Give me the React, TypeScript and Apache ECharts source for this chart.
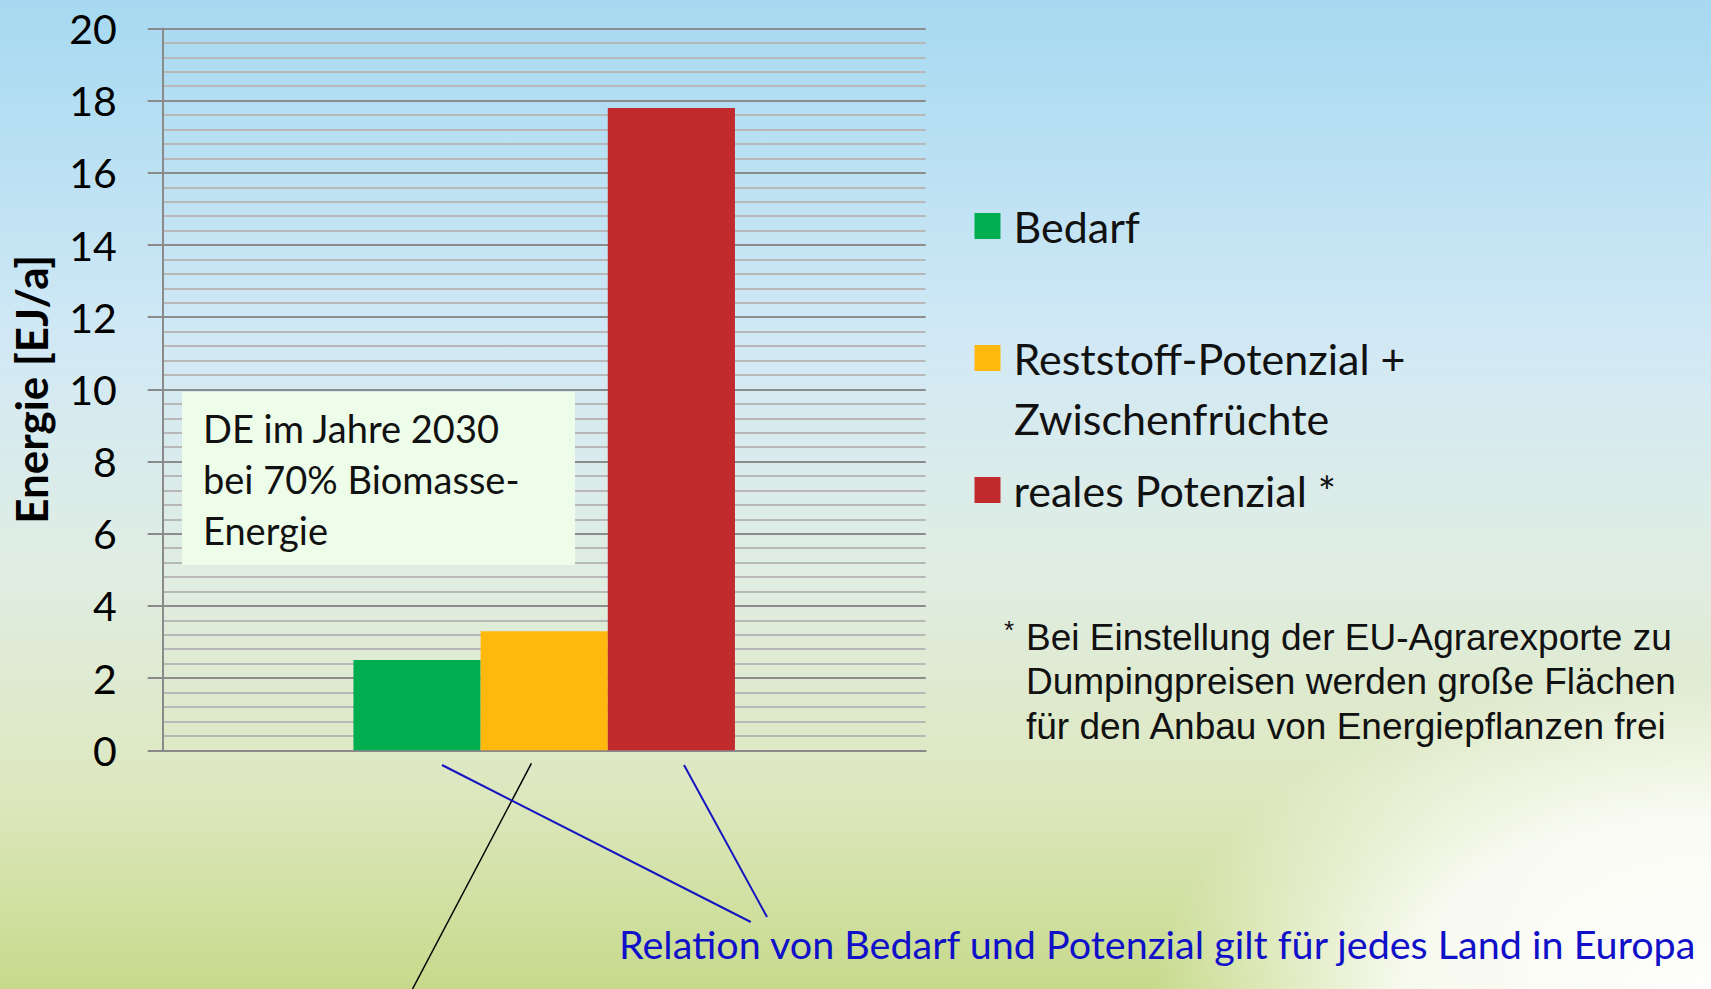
import React, { useEffect, useRef } from "react";
import * as echarts from "echarts";

// ---- data ----
const categories: string[] = [""];
const seriesNames: string[] = ["Bedarf", "Reststoff-Potenzial + Zwischenfrüchte", "reales Potenzial *"];
const bedarfValues: number[] = [2.5];
const reststoffValues: number[] = [3.3];
const realesValues: number[] = [17.8];
const seriesColors: string[] = ["#00ad4f", "#ffb80d", "#c22b2e"];
const yMin = 0;
const yMax = 20;
const yInterval = 2;
const yAxisName = "Energie [EJ/a]";
const boxLines: string[] = ["DE im Jahre 2030", "bei 70% Biomasse-", "Energie"];
const footnoteLines: string[] = [
  "Bei Einstellung der EU-Agrarexporte zu",
  "Dumpingpreisen werden große Flächen",
  "für den Anbau von Energiepflanzen frei",
];
const relationText = "Relation von Bedarf und Potenzial gilt für jedes Land in Europa";

const FONT = "Lato, 'Open Sans', sans-serif";

function txt(x: number, y: number, text: string, size: number, fill: string, extra: any = {}) {
  return {
    type: "text",
    x,
    y,
    silent: true,
    z: 10,
    ...extra.el,
    style: {
      text,
      fill,
      fontSize: size,
      fontFamily: extra.family || FONT,
      fontWeight: extra.weight || "normal",
      align: extra.align || "left",
      verticalAlign: "middle",
      textAlign: extra.align || "left",
      textVerticalAlign: "middle",
    },
  };
}

export default function App() {
  const ref = useRef<HTMLDivElement>(null);
  useEffect(() => {
    if (!ref.current) return;
    const chart = echarts.init(ref.current, null, { renderer: "svg" });
    const gridLeft = 162.7;
    const gridTop = 28.5;
    const gridRight = 1711 - 925.7;
    const gridBottom = 989 - 750.3;
    const axisGray = "#8a8a8a";
    const legendBase = {
      orient: "vertical",
      left: 974.5,
      icon: "rect",
      itemWidth: 26,
      itemHeight: 26,
      padding: 0,
      selectedMode: false,
      textStyle: {
        fontFamily: FONT,
        fontSize: 43,
        color: "#111",
        lineHeight: 50,
        padding: [0, 0, 0, 8],
      },
    };
    const option: any = {
      animation: false,
      backgroundColor: {
        type: "linear",
        x: 0,
        y: 0,
        x2: 0,
        y2: 1,
        colorStops: [
          { offset: 0, color: "#a6d9f1" },
          { offset: 0.35, color: "#d2e9f5" },
          { offset: 0.58, color: "#e0ede2" },
          { offset: 0.8, color: "#dde8bf" },
          { offset: 1, color: "#c7da8b" },
        ],
      },
      grid: { left: gridLeft, top: gridTop, right: gridRight, bottom: gridBottom, containLabel: false },
      xAxis: {
        type: "category",
        data: categories,
        axisLine: { show: true, lineStyle: { color: axisGray, width: 2 } },
        axisTick: { show: false },
        axisLabel: { show: false },
        splitLine: { show: false },
      },
      yAxis: {
        type: "value",
        min: yMin,
        max: yMax,
        interval: yInterval,
        name: yAxisName,
        nameLocation: "middle",
        nameRotate: 90,
        nameGap: 110,
        nameTextStyle: { fontFamily: FONT, fontWeight: "bold", fontSize: 44, color: "#000" },
        axisLine: { show: true, lineStyle: { color: axisGray, width: 2 } },
        axisTick: { show: true, length: 15, lineStyle: { color: axisGray, width: 2 } },
        axisLabel: { margin: 46, fontFamily: FONT, fontSize: 41, color: "#000" },
        splitLine: { show: true, lineStyle: { color: "#8c8c8c", width: 2 } },
        minorTick: { show: false, splitNumber: 5 },
        minorSplitLine: { show: true, lineStyle: { color: "#b8b8b8", width: 2 } },
      },
      legend: [
        { ...legendBase, top: 201, data: [seriesNames[0]] },
        { ...legendBase, top: 333, data: [seriesNames[1]], formatter: () => "Reststoff-Potenzial +" },
        { ...legendBase, top: 465, data: [seriesNames[2]] },
      ],
      series: [
        { name: seriesNames[0], type: "bar", data: bedarfValues, itemStyle: { color: seriesColors[0] }, barGap: "0%", barCategoryGap: "50%" },
        { name: seriesNames[1], type: "bar", data: reststoffValues, itemStyle: { color: seriesColors[1] }, barGap: "0%", barCategoryGap: "50%" },
        { name: seriesNames[2], type: "bar", data: realesValues, itemStyle: { color: seriesColors[2] }, barGap: "0%", barCategoryGap: "50%" },
      ],
      graphic: [
        {
          type: "ellipse",
          silent: true,
          z: 0,
          shape: { cx: 1711, cy: 1000, rx: 560, ry: 330 },
          style: {
            fill: {
              type: "radial",
              x: 0.5,
              y: 0.5,
              r: 0.5,
              colorStops: [
                { offset: 0, color: "rgba(255,255,255,1)" },
                { offset: 0.55, color: "rgba(255,255,255,0.85)" },
                { offset: 1, color: "rgba(255,255,255,0)" },
              ],
            },
          },
        },
        {
          type: "rect",
          silent: true,
          z: 5,
          shape: { x: 182, y: 392, width: 393, height: 173 },
          style: { fill: "#edfde9" },
        },
        ...boxLines.map((l, i) => txt(203, 428 + i * 51, l, 38, "#111")),
        txt(1014, 418, "Zwischenfrüchte", 43, "#111"),
        txt(1004, 630, "*", 26, "#111", { family: "'Liberation Sans', Arial, sans-serif" }),
        ...footnoteLines.map((l, i) =>
          txt(1026, 637 + i * 44.5, l, 37, "#111", { family: "'Liberation Sans', Arial, sans-serif" })
        ),
        {
          type: "line",
          silent: true,
          z: 10,
          shape: { x1: 531.4, y1: 763.4, x2: 412.5, y2: 989 },
          style: { stroke: "#000", lineWidth: 1.5 },
        },
        {
          type: "line",
          silent: true,
          z: 10,
          shape: { x1: 442, y1: 765, x2: 750.8, y2: 922 },
          style: { stroke: "#1414c0", lineWidth: 2 },
        },
        {
          type: "line",
          silent: true,
          z: 10,
          shape: { x1: 684, y1: 765, x2: 767, y2: 917 },
          style: { stroke: "#1414c0", lineWidth: 2 },
        },
        txt(619, 943, relationText, 39.5, "#1010c8"),
      ],
    };
    chart.setOption(option);
    return () => chart.dispose();
  }, []);
  return (
    <div
      ref={ref}
      style={{ position: "fixed", left: 0, top: 0, width: 1711, height: 989 }}
    />
  );
}
